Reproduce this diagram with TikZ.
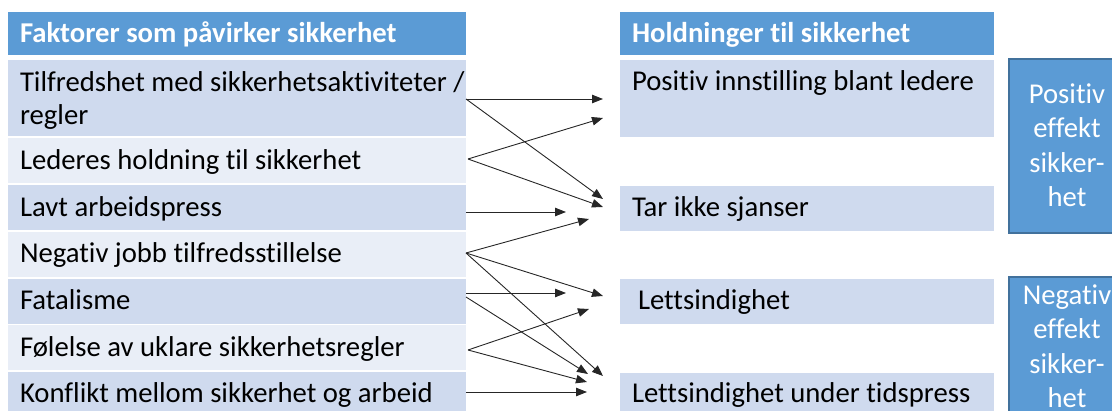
\documentclass[tikz,border=0pt]{standalone}
\usepackage{fontspec}
\setmainfont{Carlito}[Ligatures={NoCommon}]
\usetikzlibrary{arrows.meta}
\definecolor{hdr}{HTML}{5B9BD5}
\definecolor{bandA}{HTML}{CFDAEE}
\definecolor{bandB}{HTML}{E9EEF7}
\definecolor{edgeblue}{HTML}{41719C}
\begin{document}
\begin{tikzpicture}[x=1pt,y=-1pt,
  cell/.style={rectangle, inner sep=0pt, outer sep=0pt, draw=none, anchor=north west},
  txt/.style={inner sep=0pt, outer sep=0pt, anchor=base west, text=black,
    font=\fontsize{28.7}{34}\selectfont},
  hdrtxt/.style={txt, text=white, font=\fontsize{28.7}{34}\selectfont\bfseries},
  effbox/.style={rectangle, inner sep=0pt, outer sep=0pt, anchor=north west,
    fill=hdr, draw=edgeblue, line width=1.3pt, minimum width=116pt},
  efftxt/.style={inner sep=0pt, outer sep=0pt, anchor=base, text=white, align=center,
    font=\fontsize{28.7}{34.5}\selectfont},
  conn/.style={draw=black!85, line width=0.9pt, -{Triangle[length=11pt,width=8.5pt]}}
]
\useasboundingbox (0,0) rectangle (1112,411);
\clip (0,0) rectangle (1112,411);

% left table: factors
\node[cell, fill=hdr, minimum width=458pt, minimum height=43pt] (h1) at (8,12) {};
\node[cell, fill=bandA, minimum width=458pt, minimum height=76pt] (r1) at (8,60) {};
\node[cell, fill=bandB, minimum width=458pt, minimum height=45pt] (r2) at (8,138) {};
\node[cell, fill=bandA, minimum width=458pt, minimum height=45pt] (r3) at (8,185) {};
\node[cell, fill=bandB, minimum width=458pt, minimum height=45pt] (r4) at (8,232) {};
\node[cell, fill=bandA, minimum width=458pt, minimum height=45pt] (r5) at (8,279) {};
\node[cell, fill=bandB, minimum width=458pt, minimum height=45pt] (r6) at (8,325) {};
\node[cell, fill=bandA, minimum width=458pt, minimum height=50pt] (r7) at (8,372) {};

\node[hdrtxt] (h1t) at (20,43) {Faktorer som påvirker sikkerhet};
\node[txt] (r1t) at (20,92) {Tilfredshet med sikkerhetsaktiviteter /};
\node[txt] (r1u) at (20,125) {regler};
\node[txt] (r2t) at (20,170) {Lederes holdning til sikkerhet};
\node[txt] (r3t) at (20,217) {Lavt arbeidspress};
\node[txt] (r4t) at (20,263) {Negativ jobb tilfredsstillelse};
\node[txt] (r5t) at (20,310) {Fatalisme};
\node[txt] (r6t) at (20,357) {Følelse av uklare sikkerhetsregler};
\node[txt] (r7t) at (20,403) {Konflikt mellom sikkerhet og arbeid};

% right table: attitudes
\node[cell, fill=hdr, minimum width=374pt, minimum height=43pt] (h2) at (620,12) {};
\node[cell, fill=bandA, minimum width=374pt, minimum height=77pt] (p1) at (620,60) {};
\node[cell, fill=bandA, minimum width=374pt, minimum height=45pt] (p2) at (620,186) {};
\node[cell, fill=bandA, minimum width=374pt, minimum height=45pt] (p3) at (620,279) {};
\node[cell, fill=bandA, minimum width=374pt, minimum height=50pt] (p4) at (620,373) {};

\node[hdrtxt] (h2t) at (632,43) {Holdninger til sikkerhet};
\node[txt] (p1t) at (632,91) {Positiv innstilling blant ledere};
\node[txt] (p2t) at (632,217) {Tar ikke sjanser};
\node[txt] (p3t) at (638,310) {Lettsindighet};
\node[txt] (p4t) at (632,403) {Lettsindighet under tidspress};

% effect boxes (anchor base sits on the last line)
\node[effbox, minimum height=174pt] (e1) at (1009,59) {};
\node[effbox, minimum height=160pt] (e2) at (1009,277) {};
\node[efftxt] (e1t) at (1067,207) {Positiv\\effekt\\sikker-\\het};
\node[efftxt] (e2t) at (1067,408) {Negativ\\effekt\\sikker-\\het};

% connector end points
\coordinate (s1) at (466,99);
\coordinate (s2) at (468,159);
\coordinate (s3) at (466,212);
\coordinate (s4) at (466,253);
\coordinate (s5a) at (466,293);
\coordinate (s5b) at (466,297);
\coordinate (s6) at (468,350);
\coordinate (s7) at (466,392);

\coordinate (p1a) at (603,99);
\coordinate (p1b) at (603,118);
\coordinate (p2a) at (603,199);
\coordinate (p2b) at (603,207);
\coordinate (p2c) at (566,212);
\coordinate (p2d) at (589,219);
\coordinate (p3a) at (603,296);
\coordinate (p3b) at (566,293);
\coordinate (p3c) at (589,309);
\coordinate (p4a) at (603,376);
\coordinate (p4b) at (588,374);
\coordinate (p4c) at (587,382);
\coordinate (p4d) at (587,392);

% connectors
\draw[conn] (s1) -- (p1a);
\draw[conn] (s1) -- (p2a);
\draw[conn] (s2) -- (p1b);
\draw[conn] (s2) -- (p2b);
\draw[conn] (s3) -- (p2c);
\draw[conn] (s4) -- (p2d);
\draw[conn] (s4) -- (p3a);
\draw[conn] (s4) -- (p4a);
\draw[conn] (s5a) -- (p3b);
\draw[conn] (s5b) -- (p4b);
\draw[conn] (s6) -- (p3c);
\draw[conn] (s6) -- (p4c);
\draw[conn] (s7) -- (p4d);
\end{tikzpicture}
\end{document}
